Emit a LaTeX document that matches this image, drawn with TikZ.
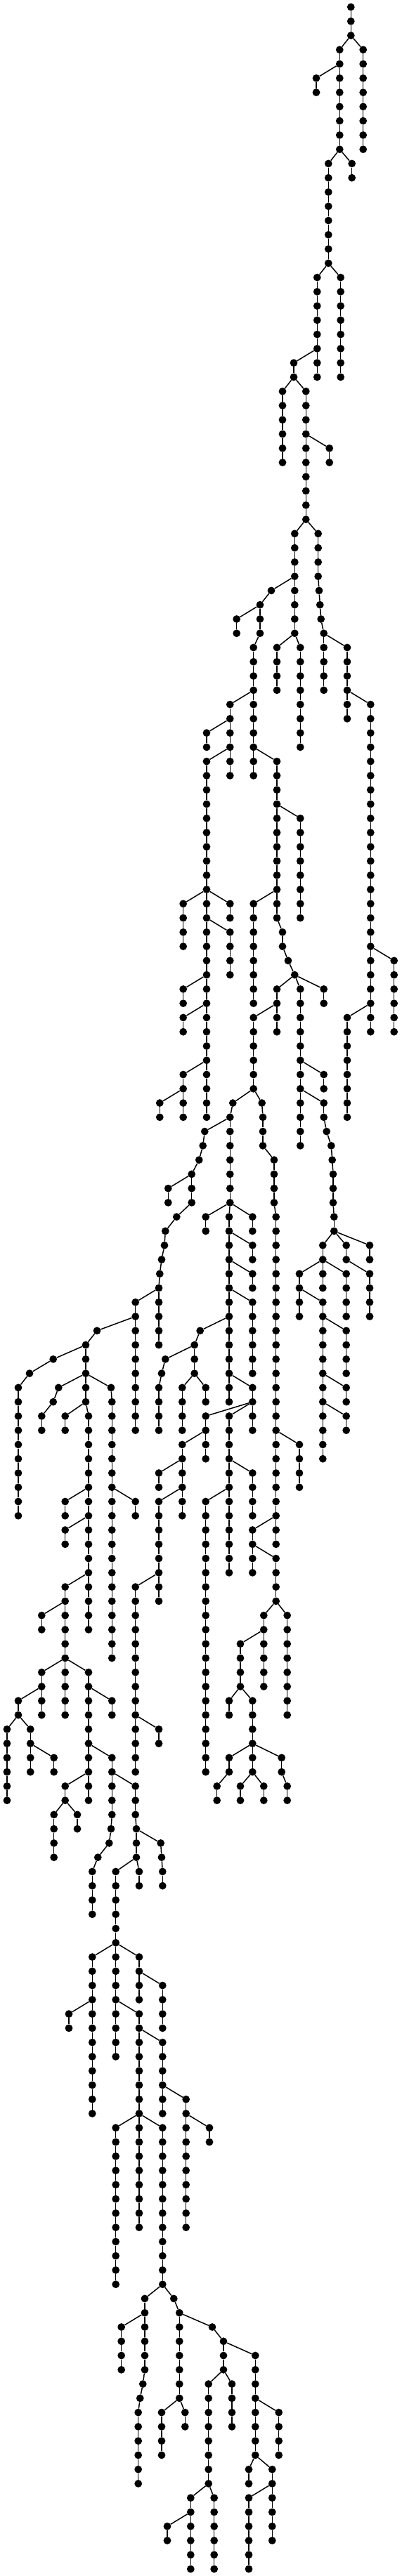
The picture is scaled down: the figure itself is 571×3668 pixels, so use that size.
\documentclass[tikz,border=0pt]{standalone}
\tikzset{
  treedot/.style={circle,fill=black,draw=none,inner sep=0pt,minimum size=10.8pt},
  treeedge/.style={draw=black,line width=1.5pt}
}
% parent node, chain name, first level, last level, x
\newcommand\seg[5]{%
  \foreach \lv in {#3,...,#4}{%
    \pgfmathsetmacro\yy{-(10+20.2667*\lv)}%
    \pgfmathtruncatemacro\lvprev{\lv-1}%
    \node[treedot] (#2-\lv) at (#5pt,\yy pt) {};
    \ifnum\lv=#3\relax
      \def\tmpparent{#1}%
      \ifx\tmpparent\empty\else\draw[treeedge] (#1) -- (#2-\lv);\fi
    \else
      \draw[treeedge] (#2-\lvprev) -- (#2-\lv);
    \fi
  }%
}
\begin{document}
\begin{tikzpicture}
\fill[white] (0,0) rectangle (571pt,-3668pt);
\useasboundingbox (0,0) rectangle (571pt,-3668pt);
\seg{}{r}{0}{2}{499.3}
\seg{r-2}{a}{3}{10}{483.3}
\seg{r-2}{b}{3}{10}{516.7}
\seg{a-4}{c}{5}{6}{450}
\seg{a-10}{d}{11}{18}{467.3}
\seg{a-10}{e}{11}{12}{500.7}
\seg{d-18}{f}{19}{26}{451.3}
\seg{d-18}{g}{19}{26}{484.7}
\seg{f-24}{h}{25}{26}{418}
\seg{h-26}{i}{27}{32}{402}
\seg{h-26}{j}{27}{36}{435.3}
\seg{j-30}{k}{31}{32}{468.7}
\seg{j-36}{l}{37}{44}{419.3}
\seg{j-36}{m}{37}{40}{452.7}
\seg{m-40}{m}{41}{41}{454}
\seg{m-41}{m}{42}{42}{455.3}
\seg{m-42}{m}{43}{43}{456.7}
\seg{m-43}{m}{44}{48}{460.7}
\seg{l-40}{n}{41}{41}{386}
\seg{n-41}{n}{42}{44}{370}
\seg{n-44}{n}{45}{54}{360.7}
\seg{n-42}{o}{43}{44}{336.7}
\seg{n-48}{p}{49}{54}{327.3}
\seg{p-50}{q}{51}{52}{294}
\seg{p-52}{s}{53}{78}{294}
\seg{n-52}{t}{53}{64}{394}
\seg{t-64}{t}{65}{66}{402}
\seg{t-66}{t}{67}{67}{410}
\seg{t-67}{t}{68}{68}{419.3}
\seg{t-56}{u}{57}{64}{427.3}
\seg{s-62}{v}{63}{66}{260.7}
\seg{s-62}{w}{63}{64}{327.3}
\seg{s-64}{x}{65}{68}{327.3}
\seg{s-68}{y}{69}{70}{260.7}
\seg{s-70}{z}{71}{72}{260.7}
\seg{s-74}{aa}{75}{78}{260.7}
\seg{aa-76}{ab}{77}{78}{227.3}
\seg{t-62}{ac}{63}{70}{360.7}
\seg{l-44}{ad}{45}{48}{394}
\seg{l-44}{ae}{45}{52}{427.3}
\seg{m-44}{af}{45}{50}{494}
\seg{af-48}{ag}{49}{72}{527.3}
\seg{ag-66}{ah}{67}{72}{560.7}
\seg{ag-70}{ai}{71}{78}{494}
\seg{t-68}{aj}{69}{72}{394}
\seg{t-68}{ak}{69}{80}{427.3}
\seg{t-68}{al}{69}{70}{460.7}
\seg{aj-70}{am}{71}{76}{360.7}
\seg{am-76}{an}{77}{77}{331.3}
\seg{an-77}{an}{78}{84}{327.3}
\seg{am-76}{ao}{77}{77}{372.7}
\seg{ao-77}{ao}{78}{80}{374}
\seg{ao-80}{ao}{81}{84}{390}
\seg{ao-84}{ao}{85}{108}{392.7}
\seg{ak-74}{ap}{75}{76}{460.7}
\seg{ak-76}{aq}{77}{78}{460.7}
\seg{aq-78}{aq}{79}{79}{464.7}
\seg{aq-79}{aq}{80}{80}{471.3}
\seg{aq-80}{aq}{81}{81}{472.7}
\seg{aq-81}{aq}{82}{84}{474}
\seg{aq-84}{aq}{85}{86}{475.3}
\seg{aq-86}{ar}{87}{88}{459.3}
\seg{aq-86}{as}{87}{88}{492.7}
\seg{aq-86}{at}{87}{88}{526}
\seg{as-88}{au}{89}{92}{526}
\seg{ar-88}{av}{89}{92}{426}
\seg{ar-88}{aw}{89}{90}{459.3}
\seg{ar-88}{ax}{89}{92}{492.7}
\seg{av-90}{ay}{91}{102}{459.3}
\seg{ay-92}{az}{93}{96}{492.7}
\seg{ay-96}{ba}{97}{98}{492.7}
\seg{ay-98}{bb}{99}{100}{492.7}
\seg{ao-100}{bc}{101}{104}{426}
\seg{an-84}{bd}{85}{86}{292.7}
\seg{an-84}{be}{85}{98}{326}
\seg{an-84}{bf}{85}{86}{359.3}
\seg{be-86}{bg}{87}{88}{359.3}
\seg{be-88}{bh}{89}{90}{359.3}
\seg{be-90}{bi}{91}{96}{359.3}
\seg{be-92}{bj}{93}{93}{284.7}
\seg{bj-93}{bj}{94}{96}{276.7}
\seg{bj-94}{bk}{95}{95}{235.3}
\seg{bk-95}{bk}{96}{96}{230}
\seg{bk-96}{bk}{97}{100}{226}
\seg{bj-96}{bl}{97}{100}{259.3}
\seg{bj-96}{bm}{97}{98}{292.7}
\seg{be-96}{bn}{97}{100}{359.3}
\seg{bn-98}{bo}{99}{102}{292.7}
\seg{bn-98}{bp}{99}{110}{326}
\seg{bo-100}{bq}{101}{106}{259.3}
\seg{bq-102}{br}{103}{104}{226}
\seg{bq-104}{bs}{105}{112}{226}
\seg{bs-110}{bt}{111}{124}{192.7}
\seg{bt-120}{bu}{121}{122}{226}
\seg{bp-102}{bv}{103}{106}{359.3}
\seg{bp-104}{bw}{105}{124}{292.7}
\seg{ao-106}{bx}{107}{110}{359.3}
\seg{bx-108}{by}{109}{112}{392.7}
\seg{by-112}{bz}{113}{118}{375.3}
\seg{by-112}{ca}{113}{120}{408.7}
\seg{bz-114}{cb}{115}{118}{342}
\seg{cb-118}{cc}{119}{120}{326}
\seg{cb-118}{cd}{119}{122}{359.3}
\seg{cd-122}{ce}{123}{124}{326}
\seg{ce-124}{ce}{125}{126}{308.7}
\seg{cd-122}{cf}{123}{124}{359.3}
\seg{cf-124}{cg}{125}{126}{342}
\seg{cf-124}{ch}{125}{126}{375.3}
\seg{cd-122}{ci}{123}{124}{400.7}
\seg{ci-124}{ci}{125}{126}{408.7}
\seg{an-78}{cj}{79}{79}{291.3}
\seg{cj-79}{cj}{80}{80}{288.7}
\seg{cj-80}{cj}{81}{81}{283.3}
\seg{cj-81}{cj}{82}{84}{272.7}
\seg{cj-84}{cj}{85}{85}{251.3}
\seg{cj-85}{cj}{86}{86}{235.3}
\seg{cj-86}{cj}{87}{87}{234}
\seg{cj-87}{cj}{88}{88}{230}
\seg{cj-88}{cj}{89}{89}{227.3}
\seg{cj-89}{cj}{90}{90}{226}
\seg{cj-82}{ck}{83}{84}{239.3}
\seg{cj-90}{cl}{91}{100}{192.7}
\seg{cj-90}{cm}{91}{94}{226}
\seg{cl-92}{cn}{93}{93}{138}
\seg{cn-93}{cn}{94}{96}{122}
\seg{cn-94}{co}{95}{95}{75.7}
\seg{co-95}{co}{96}{96}{42}
\seg{co-96}{co}{97}{106}{26}
\seg{cn-96}{cp}{97}{97}{83.3}
\seg{cp-97}{cp}{98}{98}{75.7}
\seg{cp-98}{cp}{99}{100}{59.3}
\seg{cn-96}{cq}{97}{98}{122}
\seg{cn-96}{cr}{97}{97}{158}
\seg{cr-97}{cr}{98}{116}{159.3}
\seg{cq-98}{cs}{99}{100}{92.7}
\seg{cq-98}{ct}{99}{114}{126}
\seg{ct-104}{cu}{105}{106}{92.7}
\seg{cr-104}{cv}{105}{106}{192.7}
\seg{ct-106}{cw}{107}{108}{92.7}
\seg{ct-110}{cx}{111}{116}{92.7}
\seg{cx-112}{cy}{113}{114}{59.3}
\seg{cx-116}{cz}{117}{120}{59.3}
\seg{cx-116}{da}{117}{120}{92.7}
\seg{cx-116}{db}{117}{126}{126}
\seg{cz-118}{dc}{119}{120}{26}
\seg{dc-120}{dd}{121}{126}{10}
\seg{dc-120}{de}{121}{124}{43.3}
\seg{de-122}{df}{123}{124}{76.7}
\seg{db-118}{dg}{119}{120}{159.3}
\seg{db-122}{dh}{123}{127}{159.3}
\seg{dh-127}{dh}{128}{128}{158}
\seg{dh-128}{dh}{129}{129}{155.3}
\seg{dh-129}{dh}{130}{130}{139.3}
\seg{dh-130}{dh}{131}{134}{131.3}
\seg{db-124}{di}{125}{126}{92.7}
\seg{di-126}{dj}{127}{130}{76.7}
\seg{di-126}{dk}{127}{128}{110}
\seg{dh-124}{dl}{125}{127}{192.7}
\seg{dl-127}{dl}{128}{130}{194}
\seg{dl-128}{dm}{129}{129}{228.7}
\seg{dm-129}{dm}{130}{130}{230}
\seg{dm-130}{dm}{131}{132}{231.3}
\seg{dl-130}{dn}{131}{132}{198}
\seg{dl-130}{do}{131}{144}{164.7}
\seg{do-136}{dp}{137}{148}{131.3}
\seg{dp-140}{dq}{141}{142}{98}
\seg{do-136}{dr}{137}{140}{198}
\seg{dr-138}{ds}{139}{142}{231.3}
\seg{do-140}{dt}{141}{148}{198}
\seg{dt-142}{du}{143}{148}{231.3}
\seg{du-146}{dv}{147}{156}{264.7}
\seg{dv-148}{dw}{149}{150}{298}
\seg{dt-148}{dx}{149}{160}{164.7}
\seg{dt-148}{dy}{149}{156}{198}
\seg{dt-148}{dz}{149}{160}{231.3}
\seg{dz-160}{ea}{161}{166}{206}
\seg{ea-166}{ea}{167}{167}{203.3}
\seg{ea-167}{ea}{168}{168}{199.3}
\seg{ea-168}{ea}{169}{174}{196.7}
\seg{ea-162}{eb}{163}{166}{172.7}
\seg{dz-160}{ec}{161}{161}{247.3}
\seg{ec-161}{ec}{162}{168}{255.3}
\seg{ec-168}{ed}{169}{172}{230}
\seg{ec-168}{ee}{169}{170}{263.3}
\seg{ec-162}{ef}{163}{163}{302}
\seg{ef-163}{ef}{164}{166}{318}
\seg{ef-166}{eg}{167}{174}{296.7}
\seg{ef-166}{eh}{167}{170}{330}
\seg{eg-174}{ei}{175}{180}{271.3}
\seg{eg-174}{ej}{175}{180}{304.7}
\seg{ei-176}{ek}{177}{178}{238}
\seg{ef-164}{el}{165}{172}{363.3}
\seg{el-168}{em}{169}{172}{396.7}
\seg{el-172}{en}{173}{174}{354}
\seg{el-172}{eo}{173}{178}{387.3}
\seg{eo-174}{ep}{175}{180}{354}
\end{tikzpicture}
\end{document}
